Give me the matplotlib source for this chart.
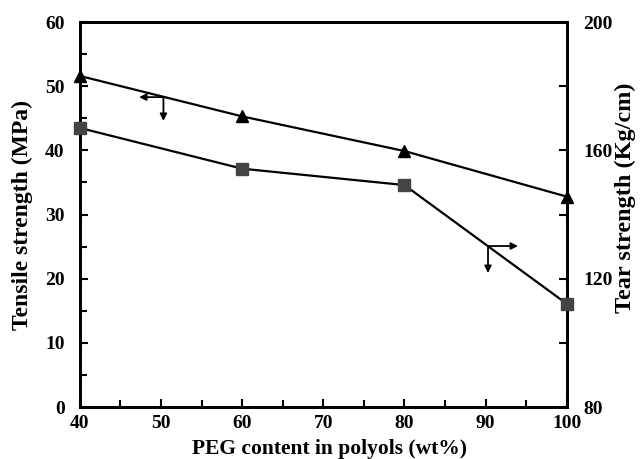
import matplotlib.pyplot as plt
from matplotlib.ticker import MultipleLocator

plt.rcParams["font.family"] = ["Liberation Serif", "DejaVu Serif"]
plt.rcParams["font.weight"] = "bold"

peg = [40, 60, 80, 100]
tensile = [51.6, 45.3, 39.9, 32.8]
tear = [167.0, 154.3, 149.2, 112.2]

fig, ax = plt.subplots(figsize=(6.44, 4.59), dpi=100)
fig.subplots_adjust(left=0.124, right=0.880, top=0.952, bottom=0.113)

ax.plot(peg, tensile, "k-", lw=1.6, marker="^", ms=9, clip_on=False, zorder=5)
ax.set_xlim(40, 100)
ax.set_ylim(0, 60)
ax.xaxis.set_major_locator(MultipleLocator(10))
ax.xaxis.set_minor_locator(MultipleLocator(5))
ax.yaxis.set_major_locator(MultipleLocator(10))
ax.yaxis.set_minor_locator(MultipleLocator(5))
ax.tick_params(which="both", direction="in", top=False, right=False, labelsize=14, width=1.5)
ax.tick_params(which="major", length=6)
ax.tick_params(which="minor", length=5)
ax.tick_params(axis="x", which="major", pad=6)
ax.tick_params(axis="y", which="major", pad=11)
for s in ax.spines.values():
    s.set_linewidth(2)
ax.set_xlabel("PEG content in polyols (wt%)", fontsize=15.5, fontweight="bold")
ax.xaxis.set_label_coords(0.513, -0.082)
ax.set_ylabel("Tensile strength (MPa)", fontsize=17, fontweight="bold")
ax.yaxis.set_label_coords(-0.097, 0.5)

ax2 = ax.twinx()
ax2.plot(peg, tear, "k-", lw=1.6, marker="s", ms=8, mfc="#444444", mec="#444444",
         clip_on=False, zorder=5)
ax2.set_ylim(80, 200)
ax2.yaxis.set_major_locator(MultipleLocator(40))
ax2.yaxis.set_minor_locator(MultipleLocator(20))
ax2.tick_params(which="both", direction="in", labelsize=14, width=1.5)
ax2.tick_params(which="major", length=6, pad=12)
ax2.tick_params(which="minor", length=6)
ax2.set_ylabel("Tear strength (Kg/cm)", fontsize=17.5, fontweight="bold")
ax2.yaxis.set_label_coords(1.099, 0.545)
for s in ax2.spines.values():
    s.set_linewidth(2)

# axis indicator arrows
arrow = dict(arrowstyle="-|>", color="k", lw=1.3, mutation_scale=10, shrinkA=0, shrinkB=0)
ax.annotate("", xy=(47.3, 48.3), xytext=(50.3, 48.3), arrowprops=arrow)
ax.annotate("", xy=(50.3, 44.6), xytext=(50.3, 48.3), arrowprops=arrow)
ax.annotate("", xy=(94.0, 25.1), xytext=(90.3, 25.1), arrowprops=arrow)
ax.annotate("", xy=(90.3, 20.9), xytext=(90.3, 25.1), arrowprops=arrow)

fig.savefig("out.png", dpi=100)
